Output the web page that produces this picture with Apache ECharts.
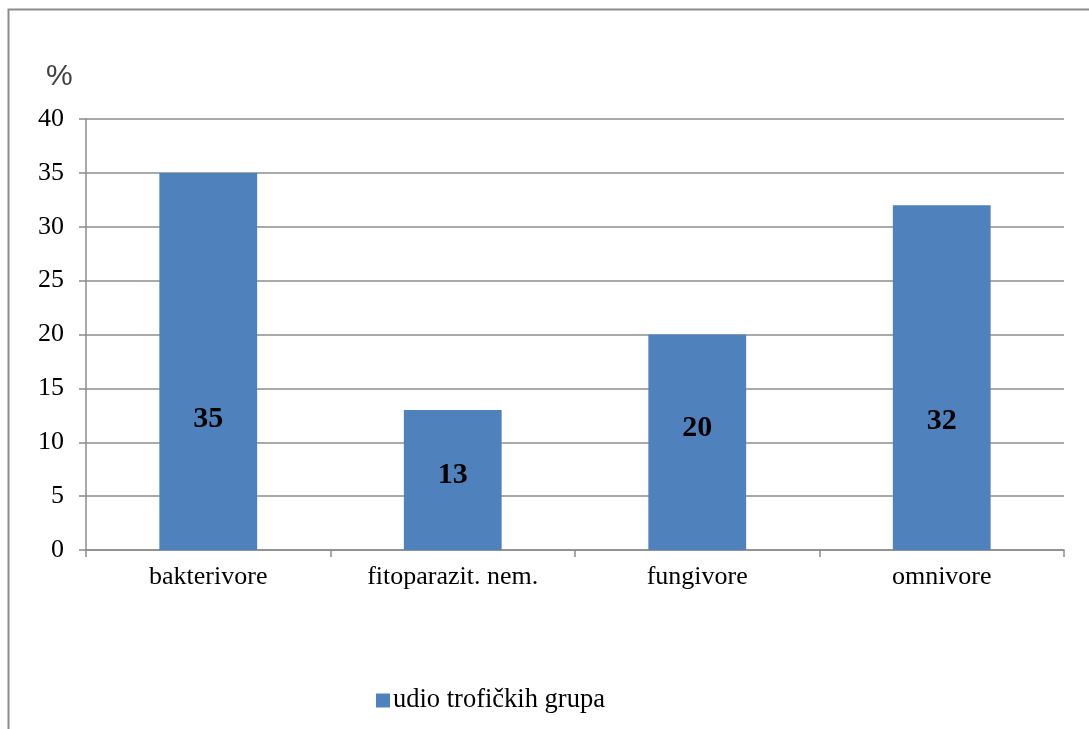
<!DOCTYPE html>
<html>
<head>
<meta charset="utf-8">
<script src="https://cdn.jsdelivr.net/npm/echarts@6/dist/echarts.min.js"></script>
<style>html,body{margin:0;padding:0;background:#fff;}#c{width:1089px;height:729px;}</style>
</head>
<body>
<div id="c"></div>
<script>
const categories = ['bakterivore', 'fitoparazit. nem.', 'fungivore', 'omnivore'];
const values = [35, 13, 20, 32];
const yTicks = [0, 5, 10, 15, 20, 25, 30, 35, 40];
const seriesName = 'udio trofičkih grupa';
// vertical offsets of value labels from bar centres (px), as placed in the reference
const labelShift = [58, -5, -14, 44];

const serif = '"Liberation Serif", "Times New Roman", serif';
const chart = echarts.init(document.getElementById('c'));
chart.setOption({
  animation: false,
  backgroundColor: '#fff',
  graphic: [
    { type: 'rect', shape: { x: 8.5, y: 9.5, width: 1200, height: 1000 },
      style: { fill: 'none', stroke: '#8c8c8c', lineWidth: 2 }, silent: true },
    { type: 'text', left: 46, top: 62,
      style: { text: '%', font: '30px "Liberation Sans", Arial, sans-serif', fill: '#404040' } }
  ],
  grid: { left: 86, right: 25, top: 119, bottom: 179, containLabel: false },
  legend: {
    data: [seriesName],
    left: 371, top: 682,
    itemWidth: 14, itemHeight: 14, itemGap: 4,
    icon: 'rect',
    textStyle: { fontFamily: serif, fontSize: 26.5, color: '#000', padding: [0, 0, 0, -2] }
  },
  xAxis: {
    type: 'category',
    data: categories,
    axisLine: { lineStyle: { color: '#8c8c8c', width: 1.5 } },
    axisTick: { show: true, length: 7, lineStyle: { color: '#8c8c8c', width: 1.5 } },
    axisLabel: { fontFamily: serif, fontSize: 26, color: '#000', margin: 14 }
  },
  yAxis: {
    type: 'value',
    min: yTicks[0], max: yTicks[yTicks.length - 1], interval: 5,
    axisLine: { show: true, lineStyle: { color: '#8c8c8c', width: 1.5 } },
    axisTick: { show: true, length: 7, lineStyle: { color: '#8c8c8c', width: 1.5 } },
    splitLine: { lineStyle: { color: '#8c8c8c', width: 1.5 } },
    axisLabel: { fontFamily: serif, fontSize: 26, color: '#000', margin: 22 }
  },
  series: [{
    name: seriesName,
    type: 'bar',
    barWidth: '40%',
    itemStyle: { color: '#4F81BD' },
    data: values.map((v, i) => ({
      value: v,
      label: { offset: [0, labelShift[i]] }
    })),
    label: {
      show: true, position: 'inside',
      fontFamily: serif, fontSize: 30, fontWeight: 'bold', color: '#000'
    }
  }]
});
</script>
</body>
</html>
